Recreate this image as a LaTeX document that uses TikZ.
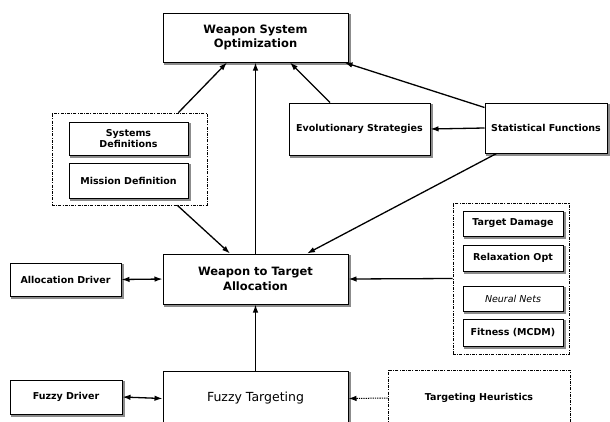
\documentclass[tikz,border=0pt]{standalone}
\usepackage{fontspec}
\setmainfont{DejaVu Sans}
\usetikzlibrary{arrows.meta}

\begin{document}
\begin{tikzpicture}[x=1pt, y=-1pt,
    box/.style={draw, fill=white, line width=1pt, align=center, inner sep=0pt,
        preaction={draw=black!45, line width=1.6pt, transform canvas={shift={(2pt,-2pt)}}}},
    bigtext/.style={font=\fontsize{11.5}{14.5}\selectfont\bfseries},
    smalltext/.style={font=\fontsize{9.5}{11.5}\selectfont\bfseries},
    group/.style={draw, line width=0.7pt, dash pattern=on 3pt off 1.2pt on 1pt off 1.2pt},
    link/.style={line width=1.3pt, -{Latex[length=8pt,width=5.5pt]}},
    dlink/.style={line width=1.3pt, {Latex[length=8pt,width=5.5pt]}-{Latex[length=8pt,width=5.5pt]}},
    ]
    % --- page size (pixels of the original figure) ---
    \clip (0,0) rectangle (610,421);
    \def\colx{255.5}      % x of the main column
    \def\subx{513}        % x of the small boxes on the right

    % --- main column ---
    \node[box, bigtext, minimum width=185pt, minimum height=49pt] (wso) at (\colx,37.5) {Weapon System\\Optimization};
    \node[box, bigtext, minimum width=185pt, minimum height=50pt] (wta) at (\colx,279) {Weapon to Target\\Allocation};
    \node[box, font=\fontsize{12.5}{14}\selectfont, minimum width=185pt, minimum height=55pt] (ft) at (\colx,398.5) {Fuzzy Targeting};

    % --- definitions group ---
    \node[group, minimum width=155pt, minimum height=92pt] (sysgrp) at (129.5,159) {};
    \node[box, smalltext, minimum width=119pt, minimum height=33pt] (sysdef) at (128.5,138.5) {Systems\\Definitions};
    \node[box, smalltext, minimum width=119pt, minimum height=35pt] (misdef) at (128.5,180.5) {Mission Definition};

    % --- strategies and statistics ---
    \node[box, smalltext, minimum width=141pt, minimum height=52pt] (evo) at (359.5,129) {Evolutionary Strategies};
    \node[box, smalltext, minimum width=122pt, minimum height=50pt] (stat) at (546,128) {Statistical Functions};

    % --- drivers ---
    \node[box, smalltext, minimum width=111pt, minimum height=33pt] (alloc) at (65.5,279.5) {Allocation Driver};
    \node[box, smalltext, minimum width=112pt, minimum height=34pt] (fuzzy) at (66,397) {Fuzzy Driver};

    % --- damage models group ---
    \node[group, minimum width=116pt, minimum height=151pt] (dmggrp) at (511,278.5) {};
    \node[box, smalltext, minimum width=100pt, minimum height=25pt] (damage) at (\subx,223.5) {Target Damage};
    \node[box, smalltext, minimum width=100pt, minimum height=26pt] (relax) at (\subx,258) {Relaxation Opt};
    \node[box, font=\fontsize{9.5}{11.5}\selectfont\itshape, minimum width=100pt, minimum height=25pt] (neural) at (\subx,298.5) {Neural Nets};
    \node[box, smalltext, minimum width=100pt, minimum height=27pt] (fitness) at (\subx,332.5) {Fitness (MCDM)};

    % --- heuristics ---
    \node[group, fill=white, smalltext, minimum width=182pt, minimum height=56pt] (heur) at (479,398) {Targeting Heuristics};

    % --- connectors to the optimization box ---
    \draw[link] ([xshift=-29pt]sysgrp.north east) -- ([xshift=-28.5pt]wso.south);
    \draw[link] (wta.north) -- (wso.south);
    \draw[link] ([xshift=-29.5pt]evo.north) -- ([xshift=34.5pt]wso.south);
    \draw[link] ([yshift=-5pt]stat.north west) -- ([xshift=-4pt]wso.south east);
    \draw[link] (stat.west) -- (evo.east);

    % --- connectors to the allocation box ---
    \draw[link] ([xshift=-30pt]sysgrp.south east) -- ([xshift=-25.5pt]wta.north);
    \draw[link] ([xshift=12pt]stat.south west) -- ([xshift=51.5pt]wta.north);
    \draw[link] (dmggrp.west) -- (wta.east);
    \draw[dlink] (alloc.east) -- (wta.west);
    \draw[link] (ft.north) -- (wta.south);

    % --- connectors to fuzzy targeting ---
    \draw[dlink] (fuzzy.east) -- (ft.west);
    \draw[link, densely dotted, line width=1pt] (heur.west) -- (ft.east);

\end{tikzpicture}
\end{document}
